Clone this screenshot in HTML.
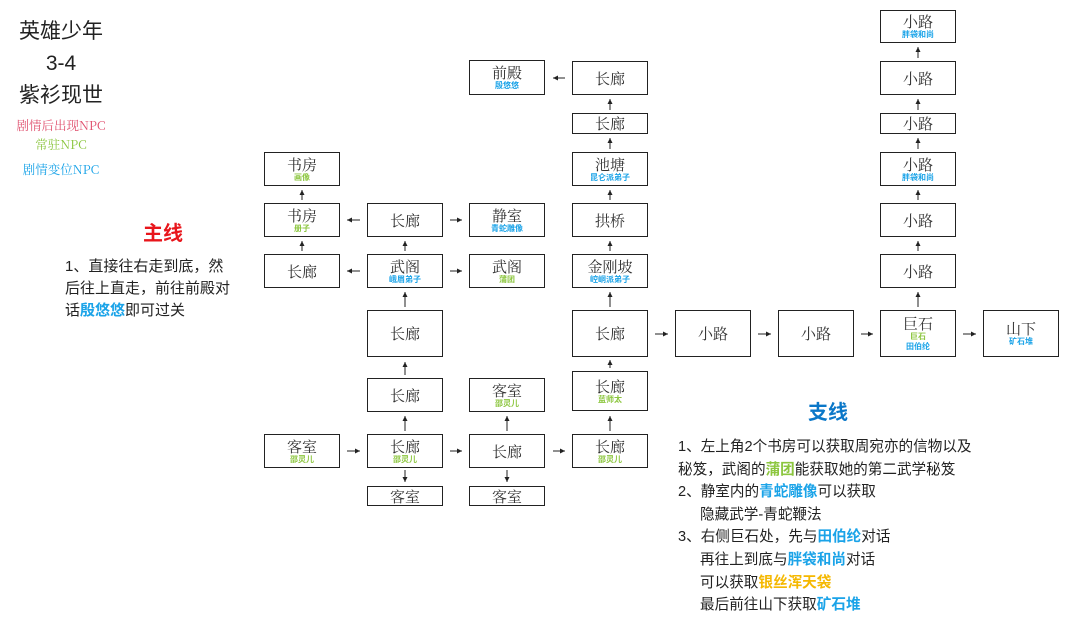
<!DOCTYPE html>
<html><head><meta charset="utf-8">
<style>
body{margin:0;width:1080px;height:622px;background:#fff;position:relative;overflow:hidden;font-family:"Liberation Sans","Noto Sans CJK SC",sans-serif;}
.n{position:absolute;border:1.5px solid #222;box-sizing:border-box;background:#fff;display:flex;flex-direction:column;align-items:center;justify-content:center;font-family:"Noto Serif CJK SC","Noto Sans CJK SC",serif;font-size:15px;color:#333;line-height:17px}
.n s{text-decoration:none;font-size:8px;line-height:10px;font-family:"Noto Sans CJK SC",sans-serif;font-weight:bold}
.g{color:#8cc63f}.b{color:#1aa3e8}
.t{position:absolute;font-family:"Liberation Sans","Noto Sans CJK SC",sans-serif;color:#222}
svg{position:absolute;left:0;top:0}
</style></head><body>
<div class="t" style="left:0;width:122px;top:16px;text-align:center;font-size:21px;line-height:32px">英雄少年<br>3-4<br>紫衫现世</div>
<div class="t" style="left:0;width:122px;top:116px;text-align:center;font-size:12.5px;color:#e0506e;font-family:'Noto Serif CJK SC',serif">剧情后出现NPC</div>
<div class="t" style="left:0;width:122px;top:135px;text-align:center;font-size:12.5px;color:#8cc63f;font-family:'Noto Serif CJK SC',serif">常驻NPC</div>
<div class="t" style="left:0;width:122px;top:160px;text-align:center;font-size:12.5px;color:#1aa3e8;font-family:'Noto Serif CJK SC',serif">剧情变位NPC</div>
<div class="t" style="left:143px;top:217px;font-size:20px;font-weight:bold;color:#e8151b">主线</div>
<div class="t" style="left:65px;top:256px;font-size:15px;line-height:22px;width:180px">1、直接往右走到底，然<br>后往上直走，前往前殿对<br>话<b style="color:#1aa3e8">殷悠悠</b>即可过关</div>
<div class="t" style="left:808px;top:396px;font-size:20px;font-weight:bold;color:#0a77c8">支线</div>
<div class="t" style="left:678px;top:436px;font-size:14.6px;line-height:22.6px;width:320px">1、左上角2个书房可以获取周宛亦的信物以及<br>秘笈，武阁的<b style="color:#8cc63f">蒲团</b>能获取她的第二武学秘笈<br>2、静室内的<b style="color:#1aa3e8">青蛇雕像</b>可以获取<br><span style="padding-left:22px">隐藏武学-青蛇鞭法</span><br>3、右侧巨石处，先与<b style="color:#1aa3e8">田伯纶</b>对话<br><span style="padding-left:22px">再往上到底与<b style="color:#1aa3e8">胖袋和尚</b>对话</span><br><span style="padding-left:22px">可以获取<b style="color:#f5b800">银丝浑天袋</b></span><br><span style="padding-left:22px">最后前往山下获取<b style="color:#1aa3e8">矿石堆</b></span></div>

<div class="n" style="left:264px;top:152px;width:76px;height:34px">书房<s class="g">画像</s></div>
<div class="n" style="left:264px;top:203px;width:76px;height:34px">书房<s class="g">册子</s></div>
<div class="n" style="left:264px;top:254px;width:76px;height:34px">长廊</div>
<div class="n" style="left:264px;top:434px;width:76px;height:34px">客室<s class="g">邵灵儿</s></div>
<div class="n" style="left:367px;top:203px;width:76px;height:34px">长廊</div>
<div class="n" style="left:367px;top:254px;width:76px;height:34px">武阁<s class="b">峨眉弟子</s></div>
<div class="n" style="left:367px;top:310px;width:76px;height:47px">长廊</div>
<div class="n" style="left:367px;top:378px;width:76px;height:34px">长廊</div>
<div class="n" style="left:367px;top:434px;width:76px;height:34px">长廊<s class="g">邵灵儿</s></div>
<div class="n" style="left:367px;top:486px;width:76px;height:20px">客室</div>
<div class="n" style="left:469px;top:60px;width:76px;height:35px">前殿<s class="b">殷悠悠</s></div>
<div class="n" style="left:469px;top:203px;width:76px;height:34px">静室<s class="b">青蛇雕像</s></div>
<div class="n" style="left:469px;top:254px;width:76px;height:34px">武阁<s class="g">蒲团</s></div>
<div class="n" style="left:469px;top:378px;width:76px;height:34px">客室<s class="g">邵灵儿</s></div>
<div class="n" style="left:469px;top:434px;width:76px;height:34px">长廊</div>
<div class="n" style="left:469px;top:486px;width:76px;height:20px">客室</div>
<div class="n" style="left:572px;top:61px;width:76px;height:34px">长廊</div>
<div class="n" style="left:572px;top:113px;width:76px;height:21px">长廊</div>
<div class="n" style="left:572px;top:152px;width:76px;height:34px">池塘<s class="b">昆仑派弟子</s></div>
<div class="n" style="left:572px;top:203px;width:76px;height:34px">拱桥</div>
<div class="n" style="left:572px;top:254px;width:76px;height:34px">金刚坡<s class="b">崆峒派弟子</s></div>
<div class="n" style="left:572px;top:310px;width:76px;height:47px">长廊</div>
<div class="n" style="left:572px;top:371px;width:76px;height:40px">长廊<s class="g">蓝师太</s></div>
<div class="n" style="left:572px;top:434px;width:76px;height:34px">长廊<s class="g">邵灵儿</s></div>
<div class="n" style="left:675px;top:310px;width:76px;height:47px">小路</div>
<div class="n" style="left:778px;top:310px;width:76px;height:47px">小路</div>
<div class="n" style="left:880px;top:310px;width:76px;height:47px">巨石<s class="g">巨石</s><s class="b">田伯纶</s></div>
<div class="n" style="left:983px;top:310px;width:76px;height:47px">山下<s class="b">矿石堆</s></div>
<div class="n" style="left:880px;top:10px;width:76px;height:33px">小路<s class="b">胖袋和尚</s></div>
<div class="n" style="left:880px;top:61px;width:76px;height:34px">小路</div>
<div class="n" style="left:880px;top:113px;width:76px;height:21px">小路</div>
<div class="n" style="left:880px;top:152px;width:76px;height:34px">小路<s class="b">胖袋和尚</s></div>
<div class="n" style="left:880px;top:203px;width:76px;height:34px">小路</div>
<div class="n" style="left:880px;top:254px;width:76px;height:34px">小路</div>

<svg width="1080" height="622">
<defs><marker id="a" markerWidth="6" markerHeight="6" refX="5" refY="3" orient="auto"><path d="M0,0.5 L5,3 L0,5.5z" fill="#222"/></marker></defs>
<g stroke="#222" stroke-width="1" marker-end="url(#a)">
<line x1="302" y1="200" x2="302" y2="190"/>
<line x1="302" y1="251" x2="302" y2="241"/>
<line x1="405" y1="251" x2="405" y2="241"/>
<line x1="405" y1="307" x2="405" y2="292"/>
<line x1="405" y1="375" x2="405" y2="362"/>
<line x1="405" y1="431" x2="405" y2="416"/>
<line x1="507" y1="431" x2="507" y2="416"/>
<line x1="610" y1="431" x2="610" y2="416"/>
<line x1="610" y1="368" x2="610" y2="360"/>
<line x1="610" y1="307" x2="610" y2="292"/>
<line x1="610" y1="251" x2="610" y2="241"/>
<line x1="610" y1="200" x2="610" y2="190"/>
<line x1="610" y1="149" x2="610" y2="138"/>
<line x1="610" y1="110" x2="610" y2="99"/>
<line x1="918" y1="307" x2="918" y2="292"/>
<line x1="918" y1="251" x2="918" y2="241"/>
<line x1="918" y1="200" x2="918" y2="190"/>
<line x1="918" y1="149" x2="918" y2="138"/>
<line x1="918" y1="110" x2="918" y2="99"/>
<line x1="918" y1="58" x2="918" y2="47"/>
<line x1="405" y1="470" x2="405" y2="482"/>
<line x1="507" y1="470" x2="507" y2="482"/>
<line x1="360" y1="220" x2="347" y2="220"/>
<line x1="360" y1="271" x2="347" y2="271"/>
<line x1="450" y1="220" x2="462" y2="220"/>
<line x1="450" y1="271" x2="462" y2="271"/>
<line x1="565" y1="78" x2="553" y2="78"/>
<line x1="347" y1="451" x2="360" y2="451"/>
<line x1="450" y1="451" x2="462" y2="451"/>
<line x1="553" y1="451" x2="565" y2="451"/>
<line x1="655" y1="334" x2="668" y2="334"/>
<line x1="758" y1="334" x2="771" y2="334"/>
<line x1="861" y1="334" x2="873" y2="334"/>
<line x1="963" y1="334" x2="976" y2="334"/>
</g></svg>
</body></html>
